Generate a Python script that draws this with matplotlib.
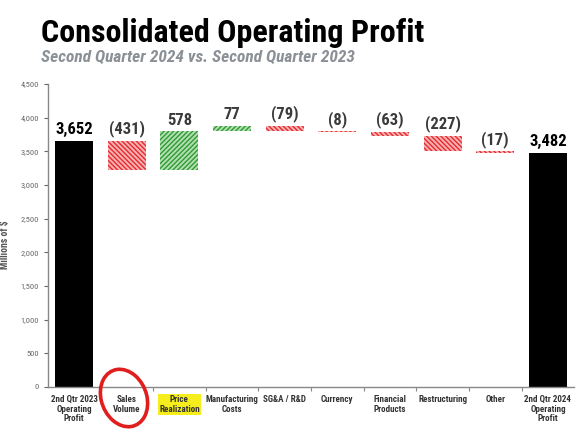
import matplotlib.pyplot as plt
from matplotlib.patches import Ellipse
from matplotlib.ticker import FuncFormatter

categories = ['2nd Qtr 2023\nOperating\nProfit', 'Sales\nVolume', 'Price\nRealization',
              'Manufacturing\nCosts', 'SG&A / R&D', 'Currency', 'Financial\nProducts',
              'Restructuring', 'Other', '2nd Qtr 2024\nOperating\nProfit']
start_total = 3652
changes = [-431, 578, 77, -79, -8, -63, -227, -17]
end_total = 3482

NARROW = ['Roboto Condensed', 'Archivo Narrow', 'Liberation Sans Narrow', 'DejaVu Sans']
plt.rcParams['hatch.linewidth'] = 1.0

fig = plt.figure(figsize=(5.76, 4.29), dpi=100)
ax = fig.add_axes([0.083, 0.098, 0.914, 0.706])

# waterfall bars
width = 0.72
ax.bar(0, start_total, width=width, color='black')
labels = [(0, start_total, f'{start_total:,}', 'black')]
level = start_total
for i, c in enumerate(changes, start=1):
    bottom = level if c > 0 else level + c
    if c > 0:
        face, hatch_col = '#b3e0b0', '#2f9a35'
    else:
        face, hatch_col = '#f7b2b2', '#e62a30'
    ax.bar(i, abs(c), bottom=bottom, width=width, facecolor=face,
           edgecolor=hatch_col, hatch='\\\\\\\\\\\\\\' if c < 0 else '///////', linewidth=0)
    txt = f'({abs(c)})' if c < 0 else f'{c}'
    labels.append((i, max(level, level + c), txt, '#3a3a3a'))
    level += c
n = len(categories) - 1
ax.bar(n, end_total, width=width, color='black')
labels.append((n, end_total, f'{end_total:,}', 'black'))

for x, top, txt, col in labels:
    ax.text(x, top + 55, txt, ha='center', va='bottom', fontsize=12,
            fontweight='bold', color=col, family=NARROW)

ax.set_xlim(-0.5, n + 0.5)
ax.set_ylim(0, 4500)
ax.set_yticks(range(0, 4501, 500))
ax.yaxis.set_major_formatter(FuncFormatter(lambda v, p: f'{int(v):,}'))
ax.tick_params(axis='y', labelsize=6, colors='#666666', length=3, width=0.8)
for t in ax.get_yticklabels():
    t.set_family(NARROW)
ax.set_ylabel('Millions of $', fontsize=7, color='#555555', fontweight='bold', family=NARROW)
ax.yaxis.set_label_coords(-0.072, 0.47)

ax.set_xticks(range(len(categories)))
ax.set_xticklabels(categories, fontsize=6.5, fontweight='bold', color='#333333',
                   family=NARROW, linespacing=1.05)
ax.tick_params(axis='x', length=0, pad=6)
ax.set_xticks([i + 0.5 for i in range(len(categories) - 1)], minor=True)
ax.tick_params(axis='x', which='minor', length=3, color='#888888', width=0.8)

for s in ['top', 'right']:
    ax.spines[s].set_visible(False)
for s in ['left', 'bottom']:
    ax.spines[s].set_color('#888888')
    ax.spines[s].set_linewidth(1)

# yellow highlight on Price Realization
ax.get_xticklabels()[2].set_bbox(dict(facecolor='#f6ee1c', edgecolor='none', pad=1))

# hand drawn circle round Sales Volume
fig.patches.append(Ellipse((124 / 576, 1 - 398 / 429), 46 / 576, 58 / 429, angle=10,
                           transform=fig.transFigure, fill=False,
                           edgecolor='#e01e1e', linewidth=2.6))

fig.text(0.072, 0.903, 'Consolidated Operating Profit', fontsize=23, fontweight='bold',
         color='black', family=NARROW)
fig.text(0.072, 0.857, 'Second Quarter 2024 vs. Second Quarter 2023', fontsize=12.5,
         fontweight='bold', style='italic', color='#8a9096', family=NARROW)

fig.savefig('out.png', dpi=100)
